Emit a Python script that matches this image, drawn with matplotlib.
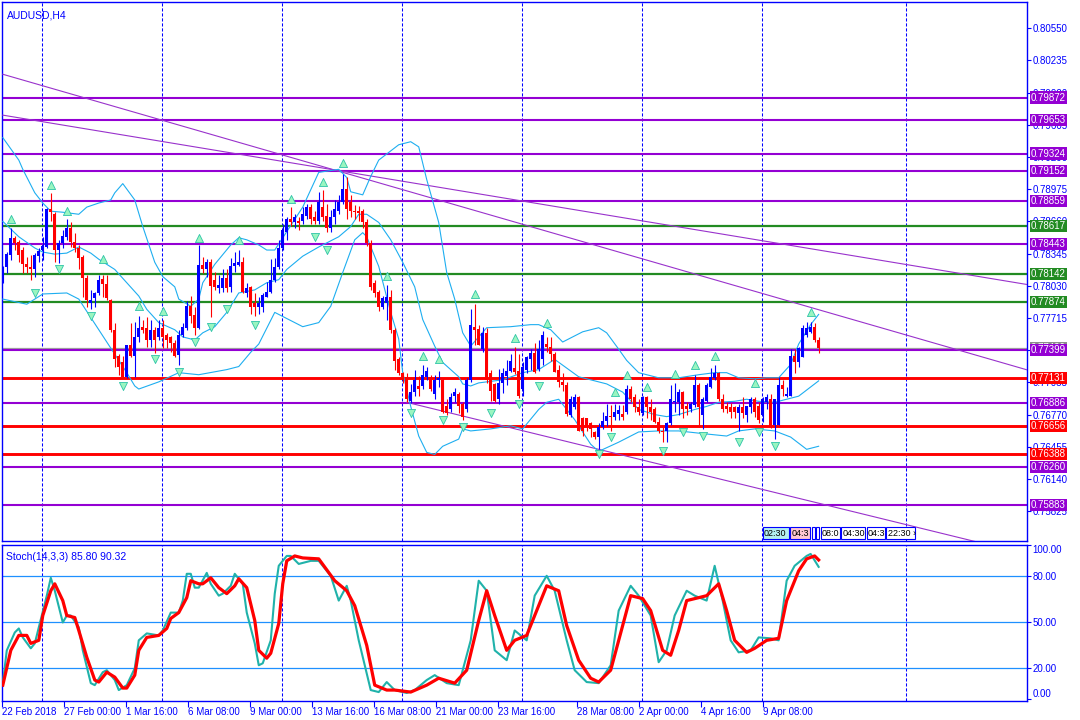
import matplotlib
matplotlib.use('Agg')
import matplotlib.pyplot as plt
from matplotlib.patches import Rectangle
import matplotlib.transforms as mtransforms
import numpy as np

plt.rcParams['font.family'] = ['Liberation Sans', 'DejaVu Sans']

# ---- AUDUSD H4 candles (bar index 0 = 22 Feb 2018) ----
opens = [
    0.7807, 0.7821, 0.7833, 0.7850, 0.7846, 0.7838, 0.7824, 0.7821, 0.7819, 0.7832,
    0.7838, 0.7841, 0.7878, 0.7873, 0.7838, 0.7845, 0.7851, 0.7860, 0.7846, 0.7840,
    0.7831, 0.7811, 0.7786, 0.7791, 0.7796, 0.7810, 0.7805, 0.7789, 0.7760, 0.7734,
    0.7728, 0.7714, 0.7745, 0.7734, 0.7753, 0.7763, 0.7762, 0.7750, 0.7760, 0.7753,
    0.7762, 0.7755, 0.7753, 0.7747, 0.7735, 0.7755, 0.7762, 0.7783, 0.7774, 0.7762,
    0.7823, 0.7819, 0.7826, 0.7809, 0.7801, 0.7801, 0.7811, 0.7802, 0.7822, 0.7823,
    0.7826, 0.7796, 0.7802, 0.7786, 0.7782, 0.7782, 0.7792, 0.7797, 0.7809, 0.7821,
    0.7840, 0.7856, 0.7868, 0.7865, 0.7866, 0.7866, 0.7871, 0.7880, 0.7870, 0.7866,
    0.7880, 0.7871, 0.7860, 0.7870, 0.7876, 0.7885, 0.7898, 0.7885, 0.7876, 0.7876,
    0.7876, 0.7865, 0.7845, 0.7806, 0.7797, 0.7782, 0.7786, 0.7792, 0.7760, 0.7731,
    0.7718, 0.7714, 0.7690, 0.7699, 0.7705, 0.7705, 0.7714, 0.7714, 0.7697, 0.7711,
    0.7711, 0.7685, 0.7682, 0.7695, 0.7697, 0.7687, 0.7682, 0.7711, 0.7763, 0.7761,
    0.7741, 0.7757, 0.7718, 0.7707, 0.7692, 0.7708, 0.7715, 0.7720, 0.7723, 0.7720,
    0.7702, 0.7721, 0.7731, 0.7737, 0.7722, 0.7731, 0.7746, 0.7743, 0.7736, 0.7721,
    0.7709, 0.7706, 0.7677, 0.7684, 0.7694, 0.7674, 0.7674, 0.7669, 0.7660, 0.7655,
    0.7665, 0.7671, 0.7676, 0.7675, 0.7678, 0.7678, 0.7680, 0.7702, 0.7694, 0.7684,
    0.7679, 0.7694, 0.7684, 0.7682, 0.7670, 0.7661, 0.7661, 0.7669, 0.7689, 0.7689,
    0.7699, 0.7685, 0.7682, 0.7686, 0.7706, 0.7677, 0.7690, 0.7704, 0.7713, 0.7718,
    0.7692, 0.7685, 0.7684, 0.7684, 0.7679, 0.7684, 0.7677, 0.7684, 0.7692, 0.7685,
    0.7677, 0.7689, 0.7692, 0.7667, 0.7667, 0.7706, 0.7695, 0.7695, 0.7734, 0.7728,
    0.7733, 0.7755, 0.7758, 0.7763, 0.7750]
highs = [
    0.7822, 0.7836, 0.7860, 0.7852, 0.7848, 0.7841, 0.7831, 0.7833, 0.7835, 0.7840,
    0.7851, 0.7879, 0.7894, 0.7875, 0.7848, 0.7858, 0.7868, 0.7865, 0.7855, 0.7843,
    0.7833, 0.7814, 0.7799, 0.7797, 0.7814, 0.7814, 0.7814, 0.7790, 0.7767, 0.7736,
    0.7734, 0.7745, 0.7767, 0.7768, 0.7773, 0.7770, 0.7772, 0.7770, 0.7763, 0.7770,
    0.7770, 0.7757, 0.7754, 0.7750, 0.7760, 0.7767, 0.7788, 0.7793, 0.7782, 0.7843,
    0.7831, 0.7829, 0.7829, 0.7817, 0.7814, 0.7819, 0.7819, 0.7830, 0.7836, 0.7838,
    0.7831, 0.7806, 0.7803, 0.7796, 0.7792, 0.7796, 0.7807, 0.7829, 0.7830, 0.7848,
    0.7863, 0.7870, 0.7880, 0.7873, 0.7870, 0.7880, 0.7883, 0.7883, 0.7876, 0.7895,
    0.7897, 0.7883, 0.7877, 0.7887, 0.7892, 0.7912, 0.7909, 0.7892, 0.7882, 0.7881,
    0.7878, 0.7868, 0.7848, 0.7809, 0.7799, 0.7793, 0.7804, 0.7799, 0.7762, 0.7733,
    0.7719, 0.7718, 0.7707, 0.7721, 0.7715, 0.7726, 0.7724, 0.7716, 0.7716, 0.7720,
    0.7713, 0.7692, 0.7698, 0.7703, 0.7699, 0.7689, 0.7713, 0.7780, 0.7785, 0.7765,
    0.7763, 0.7762, 0.7721, 0.7708, 0.7722, 0.7723, 0.7730, 0.7736, 0.7743, 0.7736,
    0.7728, 0.7734, 0.7741, 0.7747, 0.7750, 0.7759, 0.7753, 0.7753, 0.7738, 0.7726,
    0.7718, 0.7709, 0.7695, 0.7697, 0.7695, 0.7675, 0.7674, 0.7670, 0.7661, 0.7669,
    0.7680, 0.7687, 0.7686, 0.7687, 0.7686, 0.7686, 0.7706, 0.7705, 0.7697, 0.7692,
    0.7695, 0.7695, 0.7692, 0.7684, 0.7675, 0.7665, 0.7670, 0.7706, 0.7708, 0.7702,
    0.7700, 0.7689, 0.7689, 0.7716, 0.7708, 0.7694, 0.7708, 0.7723, 0.7726, 0.7719,
    0.7697, 0.7689, 0.7688, 0.7685, 0.7687, 0.7694, 0.7685, 0.7694, 0.7694, 0.7689,
    0.7694, 0.7697, 0.7697, 0.7692, 0.7714, 0.7711, 0.7704, 0.7741, 0.7741, 0.7743,
    0.7765, 0.7768, 0.7768, 0.7767, 0.7753]
lows = [
    0.7806, 0.7816, 0.7828, 0.7838, 0.7826, 0.7816, 0.7816, 0.7809, 0.7812, 0.7826,
    0.7828, 0.7840, 0.7866, 0.7826, 0.7825, 0.7840, 0.7848, 0.7841, 0.7836, 0.7819,
    0.7792, 0.7782, 0.7780, 0.7782, 0.7794, 0.7792, 0.7789, 0.7758, 0.7724, 0.7716,
    0.7713, 0.7713, 0.7733, 0.7714, 0.7748, 0.7757, 0.7743, 0.7743, 0.7737, 0.7750,
    0.7742, 0.7742, 0.7738, 0.7733, 0.7726, 0.7753, 0.7760, 0.7767, 0.7755, 0.7761,
    0.7816, 0.7812, 0.7772, 0.7799, 0.7796, 0.7797, 0.7797, 0.7797, 0.7817, 0.7822,
    0.7796, 0.7792, 0.7775, 0.7773, 0.7775, 0.7777, 0.7792, 0.7796, 0.7807, 0.7819,
    0.7838, 0.7848, 0.7862, 0.7860, 0.7858, 0.7863, 0.7868, 0.7863, 0.7863, 0.7863,
    0.7866, 0.7856, 0.7856, 0.7863, 0.7873, 0.7883, 0.7868, 0.7870, 0.7868, 0.7866,
    0.7860, 0.7842, 0.7799, 0.7792, 0.7778, 0.7780, 0.7770, 0.7757, 0.7721, 0.7716,
    0.7708, 0.7689, 0.7688, 0.7695, 0.7695, 0.7702, 0.7711, 0.7700, 0.7692, 0.7704,
    0.7679, 0.7677, 0.7680, 0.7689, 0.7679, 0.7672, 0.7680, 0.7709, 0.7745, 0.7745,
    0.7738, 0.7708, 0.7690, 0.7689, 0.7687, 0.7698, 0.7706, 0.7719, 0.7717, 0.7693,
    0.7695, 0.7718, 0.7721, 0.7718, 0.7720, 0.7726, 0.7738, 0.7729, 0.7719, 0.7704,
    0.7700, 0.7676, 0.7675, 0.7682, 0.7661, 0.7656, 0.7661, 0.7655, 0.7653, 0.7643,
    0.7663, 0.7666, 0.7661, 0.7672, 0.7672, 0.7672, 0.7678, 0.7689, 0.7680, 0.7677,
    0.7677, 0.7674, 0.7672, 0.7669, 0.7659, 0.7650, 0.7650, 0.7667, 0.7680, 0.7677,
    0.7674, 0.7677, 0.7680, 0.7684, 0.7665, 0.7663, 0.7689, 0.7703, 0.7711, 0.7690,
    0.7680, 0.7679, 0.7674, 0.7674, 0.7661, 0.7674, 0.7670, 0.7679, 0.7675, 0.7669,
    0.7670, 0.7682, 0.7664, 0.7653, 0.7667, 0.7695, 0.7694, 0.7695, 0.7718, 0.7724,
    0.7733, 0.7753, 0.7757, 0.7748, 0.7737]
closes = [
    0.7819, 0.7834, 0.7850, 0.7845, 0.7833, 0.7824, 0.7821, 0.7819, 0.7833, 0.7837,
    0.7842, 0.7878, 0.7875, 0.7838, 0.7845, 0.7852, 0.7860, 0.7846, 0.7840, 0.7830,
    0.7811, 0.7789, 0.7789, 0.7796, 0.7809, 0.7805, 0.7791, 0.7760, 0.7731, 0.7724,
    0.7714, 0.7745, 0.7734, 0.7753, 0.7762, 0.7760, 0.7750, 0.7760, 0.7750, 0.7762,
    0.7753, 0.7750, 0.7747, 0.7734, 0.7755, 0.7763, 0.7783, 0.7773, 0.7762, 0.7823,
    0.7819, 0.7826, 0.7803, 0.7802, 0.7804, 0.7811, 0.7801, 0.7822, 0.7825, 0.7826,
    0.7797, 0.7801, 0.7782, 0.7782, 0.7786, 0.7794, 0.7797, 0.7809, 0.7821, 0.7840,
    0.7858, 0.7868, 0.7865, 0.7870, 0.7864, 0.7873, 0.7880, 0.7868, 0.7866, 0.7885,
    0.7870, 0.7860, 0.7870, 0.7878, 0.7885, 0.7898, 0.7878, 0.7876, 0.7875, 0.7874,
    0.7865, 0.7845, 0.7802, 0.7796, 0.7782, 0.7791, 0.7792, 0.7760, 0.7729, 0.7718,
    0.7714, 0.7692, 0.7699, 0.7711, 0.7702, 0.7716, 0.7720, 0.7702, 0.7711, 0.7713,
    0.7680, 0.7679, 0.7694, 0.7699, 0.7685, 0.7675, 0.7711, 0.7765, 0.7760, 0.7745,
    0.7757, 0.7711, 0.7700, 0.7690, 0.7708, 0.7718, 0.7720, 0.7729, 0.7719, 0.7695,
    0.7724, 0.7733, 0.7737, 0.7719, 0.7741, 0.7755, 0.7743, 0.7736, 0.7719, 0.7709,
    0.7706, 0.7678, 0.7692, 0.7694, 0.7661, 0.7661, 0.7665, 0.7663, 0.7655, 0.7665,
    0.7671, 0.7676, 0.7675, 0.7680, 0.7681, 0.7675, 0.7702, 0.7692, 0.7684, 0.7680,
    0.7694, 0.7684, 0.7680, 0.7670, 0.7661, 0.7660, 0.7669, 0.7692, 0.7690, 0.7699,
    0.7682, 0.7682, 0.7687, 0.7706, 0.7684, 0.7692, 0.7706, 0.7714, 0.7718, 0.7692,
    0.7682, 0.7682, 0.7680, 0.7680, 0.7684, 0.7679, 0.7685, 0.7692, 0.7680, 0.7672,
    0.7692, 0.7694, 0.7665, 0.7692, 0.7706, 0.7702, 0.7697, 0.7734, 0.7728, 0.7742,
    0.7762, 0.7762, 0.7763, 0.7750, 0.7742]

# ---- Bollinger bands (read at selected bars) ----
bb_up_idx = [0, 4, 5, 8, 10, 12, 15, 19, 21, 24, 27, 28, 30, 33, 35, 38, 40, 43, 44, 47,
             49, 50, 53, 57, 59, 61, 64, 66, 68, 71, 75, 79, 84, 86, 87, 90, 92, 94, 99, 102,
             104, 106, 109, 111, 113, 115, 117, 119, 121, 127, 132, 134, 137, 140, 143, 145,
             149, 151, 154, 156, 159, 164, 169, 174, 178, 181, 184, 188, 191, 194, 197, 199,
             202, 204]
bb_up = [0.7948, 0.7926, 0.7917, 0.7894, 0.7884, 0.7876, 0.7875, 0.7873, 0.7880, 0.7884,
         0.7887, 0.7894, 0.7903, 0.7887, 0.7861, 0.7826, 0.7812, 0.7802, 0.7790, 0.7783,
         0.7790, 0.7806, 0.7824, 0.7843, 0.7850, 0.7848, 0.7843, 0.7838, 0.7838, 0.7856,
         0.7880, 0.7914, 0.7917, 0.7909, 0.7895, 0.7892, 0.7910, 0.7926, 0.7941, 0.7944,
         0.7939, 0.7907, 0.7865, 0.7816, 0.7790, 0.7757, 0.7744, 0.7753, 0.7762, 0.7763,
         0.7765, 0.7765, 0.7760, 0.7748, 0.7754, 0.7758, 0.7762, 0.7757, 0.7741, 0.7730,
         0.7718, 0.7713, 0.7713, 0.7716, 0.7718, 0.7718, 0.7713, 0.7712, 0.7713, 0.7713,
         0.7726, 0.7746, 0.7765, 0.7775]
bb_mid_idx = [0, 4, 8, 10, 13, 16, 19, 22, 24, 28, 31, 34, 36, 39, 43, 45, 48, 50, 53, 56,
              59, 63, 66, 69, 71, 75, 79, 84, 87, 89, 91, 94, 97, 100, 103, 105, 108, 110,
              114, 115, 117, 119, 125, 130, 134, 138, 144, 151, 155, 159, 163, 166, 169,
              173, 176, 179, 183, 186, 189, 193, 196, 199, 204]
bb_mid = [0.7866, 0.7851, 0.7840, 0.7836, 0.7834, 0.7835, 0.7841, 0.7835, 0.7829, 0.7819,
          0.7806, 0.7793, 0.7780, 0.7767, 0.7760, 0.7753, 0.7750, 0.7757, 0.7763, 0.7777,
          0.7796, 0.7799, 0.7806, 0.7809, 0.7819, 0.7832, 0.7841, 0.7851, 0.7861, 0.7873,
          0.7873, 0.7865, 0.7848, 0.7826, 0.7802, 0.7770, 0.7744, 0.7728, 0.7714, 0.7707,
          0.7705, 0.7708, 0.7711, 0.7718, 0.7721, 0.7731, 0.7714, 0.7707, 0.7699, 0.7682,
          0.7677, 0.7675, 0.7677, 0.7682, 0.7685, 0.7689, 0.7690, 0.7692, 0.7690, 0.7689,
          0.7692, 0.7695, 0.7710]
bb_low_idx = [0, 6, 10, 16, 19, 24, 28, 31, 33, 34, 39, 44, 49, 56, 59, 62, 64, 68, 70, 75,
              79, 82, 85, 88, 90, 91, 94, 97, 99, 100, 102, 104, 106, 108, 110, 114, 115,
              117, 122, 127, 130, 134, 136, 139, 143, 147, 149, 154, 159, 164, 169, 176,
              181, 184, 188, 193, 197, 201, 204]
bb_low = [0.7790, 0.7785, 0.7795, 0.7796, 0.7790, 0.7760, 0.7736, 0.7718, 0.7705, 0.7702,
          0.7709, 0.7718, 0.7716, 0.7721, 0.7724, 0.7738, 0.7746, 0.7777, 0.7773, 0.7763,
          0.7767, 0.7783, 0.7816, 0.7848, 0.7855, 0.7851, 0.7822, 0.7777, 0.7751, 0.7718,
          0.7685, 0.7656, 0.7640, 0.7638, 0.7646, 0.7653, 0.7663, 0.7661, 0.7663, 0.7666,
          0.7663, 0.7682, 0.7689, 0.7692, 0.7672, 0.7648, 0.7641, 0.7650, 0.7660, 0.7661,
          0.7661, 0.7658, 0.7656, 0.7661, 0.7663, 0.7661, 0.7655, 0.7643, 0.7646]

# ---- Stochastic (14,3,3) ----
stoch_k_idx = [0, 1, 3, 4, 5, 7, 8, 9, 11, 12, 13, 15, 16, 17, 19, 20, 22, 23, 25, 26,
               28, 29, 31, 33, 34, 36, 39, 40, 42, 44, 45, 46, 47, 48, 49, 51, 52, 54, 55, 57,
               58, 60, 61, 63, 64, 65, 67, 68, 69, 71, 72, 74, 77, 79, 82, 84, 86, 87, 89, 92,
               94, 96, 98, 101, 103, 106, 108, 111, 114, 117, 119, 121, 123, 126, 128, 131,
               133, 136, 138, 141, 143, 146, 149, 152, 154, 157, 159, 162, 164, 166, 168, 171,
               173, 176, 178, 180, 182, 184, 187, 189, 192, 194, 196, 198, 201, 202, 204]
stoch_k = [10.3, 31.6, 43.2, 45.8, 40, 32.9, 36.1, 46.5, 67.1, 78.7, 70.3, 49.7, 54.2, 54.2,
           46.5, 31.6, 10.3, 9, 17.4, 18.7, 12.3, 5.8, 9, 20, 38.1, 42.6, 41.3, 44.5, 56.1,
           56.1, 63.9, 81.3, 81.3, 72.3, 72.3, 81.9, 74.8, 67.1, 68.4, 73.5, 81.3, 74.8, 56.1,
           36.1, 21.9, 23.2, 38.1, 68.4, 86.5, 92.9, 92.9, 87.7, 89.7, 89.7, 80, 63.9, 73.5,
           63.9, 38.1, 5.8, 4.5, 11, 5.8, 3.9, 5.8, 12.3, 15.5, 10.3, 9, 38.1, 76.8, 70.3,
           31.6, 25.2, 44.5, 38.1, 67.1, 80, 70.3, 38.1, 18.7, 11, 10.3, 21.9, 57.4, 73.5,
           67.1, 54.2, 23.9, 31.6, 54.2, 70.3, 67.1, 63.9, 86.5, 63.9, 38.1, 30.3, 31.6, 40,
           39.4, 38.1, 76.8, 86.5, 92.9, 94.2, 85.8]
stoch_d_idx = [0, 2, 4, 6, 7, 9, 10, 12, 13, 15, 16, 18, 19, 21, 23, 24, 26, 28, 30, 31,
               33, 34, 36, 39, 41, 42, 44, 46, 47, 49, 50, 52, 54, 56, 58, 59, 61, 63, 64, 66,
               67, 69, 70, 71, 73, 75, 79, 83, 86, 88, 91, 93, 96, 98, 102, 106, 109, 113, 116,
               119, 121, 123, 126, 128, 131, 133, 136, 139, 141, 144, 147, 149, 152, 155, 157,
               160, 162, 165, 167, 169, 171, 174, 176, 179, 181, 183, 186, 188, 191, 194, 196,
               199, 201, 203, 204]
stoch_d = [9, 31.6, 41.3, 41.3, 36.1, 38.1, 54.2, 70.3, 74.8, 63.9, 54.2, 52.9, 44.5, 27.1,
           12.3, 11, 17.4, 14.2, 7.1, 7.1, 15.5, 31.6, 40, 41.3, 45.8, 52.3, 56.1, 65.8, 76.8,
           74.8, 74.8, 78.7, 72.3, 68.4, 73.5, 78.1, 72.3, 51, 31.6, 26.5, 29.7, 49, 74.8,
           89.7, 92.9, 91.6, 91, 76.8, 70.3, 60.6, 34.8, 9, 5.8, 5.8, 4.5, 9, 13.5, 10.3, 18.7,
           51, 70.3, 54.2, 31.6, 38.1, 41.3, 54.2, 73.5, 70.3, 47.7, 25.2, 13.5, 11, 18.7,
           47.7, 67.1, 65.2, 57.4, 31.6, 28.4, 44.5, 63.9, 65.8, 67.1, 74.8, 57.4, 38.1, 30.3,
           32.9, 38.1, 39.4, 63.9, 83.2, 91, 92.9, 90.3]

# ---- signal arrows (bar, price) ----
arrow_up_idx = [2, 12, 16, 25, 34, 40, 49, 59, 72, 80, 85, 96, 105, 109, 118, 128, 136,
                153, 156, 161, 168, 173, 178, 188, 202]
arrow_up = [0.7868, 0.7902, 0.7876, 0.7829, 0.7783, 0.7778, 0.7850, 0.7848, 0.7888, 0.7905,
            0.7923, 0.7813, 0.7734, 0.7731, 0.7795, 0.7752, 0.7767, 0.7699, 0.7716, 0.7704,
            0.7717, 0.7726, 0.7734, 0.7708, 0.7777]
arrow_dn_idx = [8, 14, 22, 30, 38, 44, 48, 52, 56, 63, 78, 81, 102, 110, 115, 122, 129,
                134, 149, 152, 165, 170, 175, 184, 189, 193]
arrow_dn = [0.7796, 0.7819, 0.7773, 0.7705, 0.7731, 0.7719, 0.7748, 0.7763, 0.7780, 0.7765,
            0.7851, 0.7838, 0.7679, 0.7672, 0.7665, 0.7679, 0.7687, 0.7705, 0.7638, 0.7655,
            0.7641, 0.7660, 0.7656, 0.7650, 0.7660, 0.7646]

# ---- horizontal levels ----
level_prices = [0.79872, 0.79653, 0.79324, 0.79152, 0.78859, 0.78617, 0.78443, 0.78142,
                0.77874, 0.77399, 0.77131, 0.76886, 0.76656, 0.76388, 0.76260, 0.75883]
level_kinds = ['p', 'p', 'p', 'p', 'p', 'g', 'p', 'g', 'g', 'p', 'r', 'p', 'r', 'r', 'p', 'p']

# ---- trend lines: two anchors (bar, price) each ----
trend_lines = [((0, 0.8010), (85, 0.7914)),
               ((0, 0.7970), (85, 0.7915)),
               ((101, 0.7689), (149, 0.7643))]

# ---- axis labels ----
price_ticks = [0.80550, 0.80235, 0.79920, 0.79605, 0.79290, 0.78975, 0.78660, 0.78345,
               0.78030, 0.77715, 0.77400, 0.77085, 0.76770, 0.76455, 0.76140, 0.75825]
date_ticks = [-0.2, 15.4, 30.8, 46.3, 61.8, 77.3, 92.8, 108.3, 123.8, 143.5, 159.0, 174.5, 190.0]
date_labels = ['22 Feb 2018', '27 Feb 00:00', '1 Mar 16:00', '6 Mar 08:00', '9 Mar 00:00',
               '13 Mar 16:00', '16 Mar 08:00', '21 Mar 00:00', '23 Mar 16:00', '28 Mar 08:00',
               '2 Apr 00:00', '4 Apr 16:00', '9 Apr 08:00']
grid_bars = [9.9, 39.9, 69.9, 99.9, 129.9, 159.9, 189.9, 225.8]
session_labels = ['02:30', '04:3', '|', '|', '08:0', '04:30', '04:3', '22:30 ›']
session_colors = ['#B4F0F0', '#FFC8D2', 'white', 'white', 'white', 'white', 'white', 'white']

BLUE = '#0000FF'
COLORS = {'p': '#9400D3', 'g': '#228B22', 'r': '#FF0000'}
WIDTHS = {'p': 1.5, 'g': 1.6, 'r': 2.1}
FS = 7

fig = plt.figure(figsize=(10.8, 7.2), dpi=100)
ax = fig.add_axes([2 / 1080, 179 / 720, 1025 / 1080, 539 / 720])
ax2 = fig.add_axes([2 / 1080, 19 / 720, 1025 / 1080, 156 / 720], sharex=ax)
XMAX = 256.1
ax.set_xlim(-0.2, XMAX)
ax.set_ylim(0.75533, 0.80807)
ax2.set_ylim(-1.3, 100)

for a in (ax, ax2):
    for s in a.spines.values():
        s.set_color(BLUE)
        s.set_linewidth(1.0)
    for g in grid_bars:
        a.axvline(g, color=BLUE, lw=0.75, ls=(0, (3, 1.8)), zorder=1)

# levels and labels
o = np.array(opens); h = np.array(highs); l = np.array(lows); c = np.array(closes)
last = c[-1]
ax.axhline(last, color='#A0A0A0', lw=0.9, zorder=2)
yx = mtransforms.blended_transform_factory(ax.transAxes, ax.transData)
ax.text(1.0039, last + 0.00003, f'{last:.5f}', transform=yx, color='white', fontsize=FS,
        va='center', ha='left', clip_on=False, zorder=6,
        bbox=dict(facecolor='#8C8C8C', edgecolor='none', pad=0.8))
for p, k in zip(level_prices, level_kinds):
    ax.axhline(p, color=COLORS[k], lw=WIDTHS[k], zorder=2)
    ax.text(1.0039, p, f'{p:.5f}', transform=yx, color='white', fontsize=FS, va='center',
            ha='left', clip_on=False, zorder=7,
            bbox=dict(facecolor=COLORS[k], edgecolor='none', pad=0.8))

# trend lines
for (k1, p1), (k2, p2) in trend_lines:
    slope = (p2 - p1) / (k2 - k1)
    ax.plot([k1, XMAX], [p1, p1 + slope * (XMAX - k1)], color='#9932CC', lw=0.8, zorder=3)

# bollinger bands
for ix, vals in ((bb_up_idx, bb_up), (bb_mid_idx, bb_mid), (bb_low_idx, bb_low)):
    ax.plot(ix, vals, color='#1EAEF0', lw=0.8, zorder=3)

# candles
x = np.arange(len(o))
up = c >= o
col = np.where(up, BLUE, '#FF0000')
ax.vlines(x, l, h, colors=col, lw=0.8, zorder=4)
body = np.maximum(np.abs(c - o), 0.00008)
ax.bar(x, body, bottom=np.minimum(o, c), width=0.72, color=col, lw=0, zorder=5)

# arrows
ax.scatter(arrow_up_idx, arrow_up, marker='^', s=34, facecolor='#9AF5C0',
           edgecolor='#2EC4A8', lw=0.6, zorder=6)
ax.scatter(arrow_dn_idx, arrow_dn, marker='v', s=34, facecolor='#9AF5C0',
           edgecolor='#2EC4A8', lw=0.6, zorder=6)

# price axis
ax.yaxis.tick_right()
ax.set_yticks(price_ticks)
ax.set_yticklabels([f'{t:.5f}' for t in price_ticks])
ax.tick_params(axis='y', colors=BLUE, labelcolor=BLUE, labelsize=FS, length=3, pad=1, width=0.8)
ax.tick_params(axis='x', bottom=False, labelbottom=False)
ax.text(0.005, 0.985, 'AUDUSD,H4', transform=ax.transAxes, color=BLUE, fontsize=7.5,
        va='top', ha='left')

# session boxes along the bottom of the price panel
bx = 762.5
widths_px = [26, 20, 3, 3, 19, 24, 18, 29]
for lab, fc, wpx in zip(session_labels, session_colors, widths_px):
    r = Rectangle((bx / 1080, 1 - 539 / 720), wpx / 1080, 12 / 720, transform=fig.transFigure,
                  facecolor=fc, edgecolor=BLUE, lw=0.8, zorder=8)
    fig.patches.append(r)
    if lab != '|':
        fig.text((bx + 1.5) / 1080, 1 - 533 / 720, lab, fontsize=6.5, color='black',
                 va='center', ha='left', zorder=9)
    bx += wpx + 1.5

# stochastic panel
for lv in (20, 50, 80):
    ax2.axhline(lv, color='#1E90FF', lw=0.9, zorder=2)
ax2.plot(stoch_k_idx, stoch_k, color='#20B2AA', lw=1.5, zorder=4)
ax2.plot(stoch_d_idx, stoch_d, color='#FF0000', lw=2.3, zorder=5)
ax2.yaxis.tick_right()
ax2.set_yticks([0, 20, 50, 80, 100])
ax2.set_yticklabels(['0.00', '20.00', '50.00', '80.00', '100.00'])
ax2.tick_params(axis='y', colors=BLUE, labelcolor=BLUE, labelsize=FS, length=3, pad=1, width=0.8)
ylabs = ax2.get_yticklabels()
ylabs[0].set_va('bottom')
ylabs[-1].set_va('top')
ax2.set_xticks(date_ticks)
ax2.set_xticklabels(date_labels)
ax2.tick_params(axis='x', colors=BLUE, labelcolor=BLUE, labelsize=FS, length=4, pad=0, width=0.8)
for t in ax2.get_xticklabels():
    t.set_ha('left')
ax2.text(0.004, 0.955, 'Stoch(14,3,3) 85.80 90.32', transform=ax2.transAxes, color=BLUE,
         fontsize=7.5, va='top', ha='left')

fig.savefig('out.png', dpi=100, facecolor='white')
